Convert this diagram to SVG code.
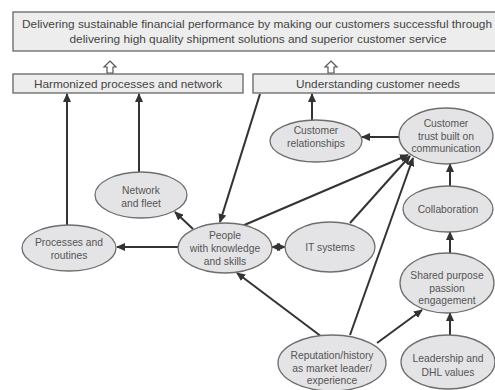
<svg xmlns="http://www.w3.org/2000/svg" width="495" height="390" viewBox="0 0 495 390">
  <defs>
    <marker id="head" markerUnits="userSpaceOnUse" markerWidth="9" markerHeight="8" refX="8" refY="4" orient="auto">
      <path d="M0,0 L9,4 L0,8 Z" fill="#333"/>
    </marker>
    <marker id="tail" markerUnits="userSpaceOnUse" markerWidth="9" markerHeight="8" refX="1" refY="4" orient="auto">
      <path d="M9,0 L0,4 L9,8 Z" fill="#333"/>
    </marker>
    <style>
      .box { fill: #ededed; stroke: #666; stroke-width: 1.3; }
      .node { fill: #e4e3e6; stroke: #6e6e6e; stroke-width: 1.3; }
      .btxt { font-family: "Liberation Sans", Arial, sans-serif; font-size: 11.8px; fill: #444; text-anchor: middle; }
      .ntxt { font-family: "Liberation Sans", Arial, sans-serif; font-size: 10.3px; fill: #555; text-anchor: middle; }
      .edge { stroke: #333; stroke-width: 2; fill: none; marker-end: url(#head); }
      .hollow { fill: #fff; stroke: #555; stroke-width: 1.2; }
    </style>
  </defs>
  <rect width="495" height="390" fill="#fff"/>

  <!-- goal banner -->
  <g id="goal">
    <rect class="box" x="13" y="12" width="490" height="39"/>
    <text class="btxt" x="257" y="28" textLength="470" lengthAdjust="spacingAndGlyphs">Delivering sustainable financial performance by making our customers successful through</text>
    <text class="btxt" x="258" y="43" textLength="377" lengthAdjust="spacingAndGlyphs">delivering high quality shipment solutions and superior customer service</text>
  </g>

  <!-- hollow up arrows -->
  <g id="lift-arrows">
    <polygon class="hollow" points="110,61 116,67 113,67 113,73 107,73 107,67 104,67"/>
    <polygon class="hollow" points="331,61 337,67 334,67 334,73 328,73 328,67 325,67"/>
  </g>

  <g id="harmonized">
    <rect class="box" x="13" y="74" width="230" height="19"/>
    <text class="btxt" x="128" y="88">Harmonized processes and network</text>
  </g>
  <g id="understanding">
    <rect class="box" x="253" y="74" width="250" height="19"/>
    <text class="btxt" x="378" y="88">Understanding customer needs</text>
  </g>

  <!-- connectors -->
  <g id="connectors">
    <line class="edge" x1="67" y1="225" x2="67" y2="94"/>
    <line class="edge" x1="139" y1="172" x2="139" y2="94"/>
    <line class="edge" x1="312" y1="120" x2="312" y2="94"/>
    <line class="edge" x1="260" y1="94" x2="220" y2="222"/>
    <line class="edge" x1="193" y1="229" x2="175" y2="212"/>
    <line class="edge" x1="178" y1="247" x2="117" y2="247"/>
    <line class="edge" x1="272" y1="247" x2="285" y2="247" style="stroke-width:1.6" marker-start="url(#tail)"/>
    <line class="edge" x1="242" y1="226" x2="408" y2="155"/>
    <line class="edge" x1="350" y1="223" x2="410" y2="156"/>
    <line class="edge" x1="350" y1="335" x2="413" y2="158"/>
    <line class="edge" x1="322" y1="337" x2="237" y2="273"/>
    <line class="edge" x1="377" y1="343" x2="422" y2="310"/>
    <line class="edge" x1="450" y1="335" x2="450" y2="313"/>
    <line class="edge" x1="450" y1="253" x2="450" y2="232"/>
    <line class="edge" x1="450" y1="186" x2="450" y2="164"/>
    <line class="edge" x1="400" y1="137" x2="362" y2="137"/>
  </g>

  <!-- nodes -->
  <g id="network">
    <ellipse class="node" cx="141" cy="195" rx="46" ry="23"/>
    <text class="ntxt" x="141" y="194">Network</text>
    <text class="ntxt" x="141" y="207">and fleet</text>
  </g>
  <g id="processes">
    <ellipse class="node" cx="69" cy="248" rx="47" ry="23"/>
    <text class="ntxt" x="69" y="246">Processes and</text>
    <text class="ntxt" x="69" y="259">routines</text>
  </g>
  <g id="people">
    <ellipse class="node" cx="225" cy="248" rx="47" ry="25"/>
    <text class="ntxt" x="225" y="239">People</text>
    <text class="ntxt" x="225" y="252">with knowledge</text>
    <text class="ntxt" x="225" y="265">and skills</text>
  </g>
  <g id="it-systems">
    <ellipse class="node" cx="330" cy="247" rx="45" ry="25"/>
    <text class="ntxt" x="330" y="251">IT systems</text>
  </g>
  <g id="customer-relationships">
    <ellipse class="node" cx="316" cy="141" rx="46" ry="21"/>
    <text class="ntxt" x="316" y="134">Customer</text>
    <text class="ntxt" x="316" y="147">relationships</text>
  </g>
  <g id="customer-trust">
    <ellipse class="node" cx="446" cy="136" rx="47" ry="28"/>
    <text class="ntxt" x="446" y="127">Customer</text>
    <text class="ntxt" x="446" y="140">trust built on</text>
    <text class="ntxt" x="446" y="152">communication</text>
  </g>
  <g id="collaboration">
    <ellipse class="node" cx="448" cy="209" rx="45" ry="23"/>
    <text class="ntxt" x="448" y="213">Collaboration</text>
  </g>
  <g id="shared-purpose">
    <ellipse class="node" cx="447" cy="283" rx="47" ry="30"/>
    <text class="ntxt" x="447" y="279">Shared purpose</text>
    <text class="ntxt" x="447" y="292">passion</text>
    <text class="ntxt" x="447" y="304">engagement</text>
  </g>
  <g id="reputation">
    <ellipse class="node" cx="332" cy="363" rx="54" ry="28"/>
    <text class="ntxt" x="332" y="359">Reputation/history</text>
    <text class="ntxt" x="332" y="372">as market leader/</text>
    <text class="ntxt" x="332" y="384">experience</text>
  </g>
  <g id="leadership">
    <ellipse class="node" cx="448" cy="362" rx="47" ry="27"/>
    <text class="ntxt" x="448" y="362">Leadership and</text>
    <text class="ntxt" x="448" y="376">DHL values</text>
  </g>
</svg>
